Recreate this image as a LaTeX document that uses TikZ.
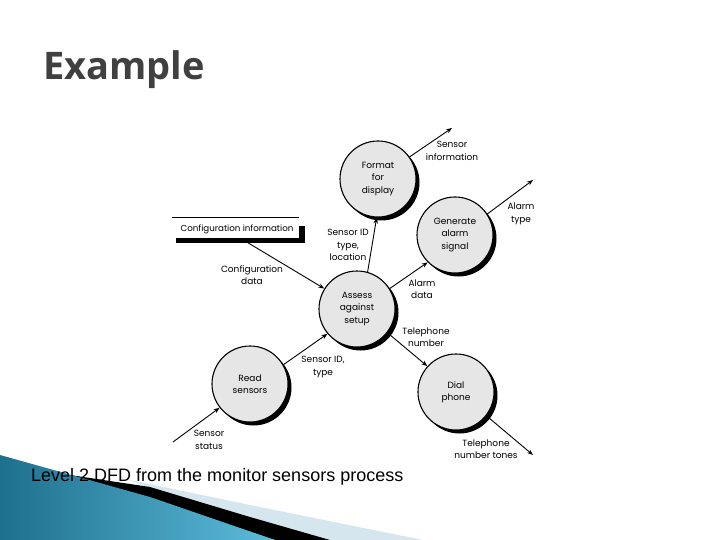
\documentclass[tikz,border=0pt]{standalone}
\usepackage{fontspec}
\setmainfont{Poppins}
\newfontfamily\capfont{Liberation Sans}
\newfontfamily\titlefont{Open Sans}
\usetikzlibrary{arrows.meta,shadows}
\definecolor{procfill}{RGB}{230,230,230}
\definecolor{titlegray}{RGB}{64,64,64}
\definecolor{swooshlight}{RGB}{214,230,238}
\definecolor{tealdark}{RGB}{30,112,142}
\definecolor{teallight}{RGB}{92,188,218}
\tikzset{
  proc/.style={circle, draw, line width=1.1pt, fill=procfill, minimum size=76pt, inner sep=0pt,
    align=center, font=\fontsize{9}{12.5}\selectfont,
    drop shadow={shadow xshift=3.5pt, shadow yshift=-3.5pt, opacity=1, fill=black}},
  lbl/.style={align=center, inner sep=0pt, font=\fontsize{9}{12.5}\selectfont},
  flow/.style={line width=0.9pt, -{Stealth[length=6pt,width=4.5pt]}}
}
\begin{document}
\begin{tikzpicture}[x=1pt,y=-1pt]
\useasboundingbox (0,0) rectangle (720,540);
% bottom swoosh
\fill[swooshlight] (130,480) -- (250,505) -- (423,540) -- (275,540) -- cycle;
\fill[black] (70,475) -- (150,487) -- (250,517) -- (330,540) -- (275,540) -- cycle;
\shade[left color=tealdark, right color=teallight] (0,455) -- (150,497) -- (275,540) -- (0,540) -- cycle;
% title
\node[anchor=west, inner sep=0pt, text=titlegray, font=\titlefont\bfseries\fontsize{38}{44}\selectfont] (title) at (43,70) {Example};
% caption
\node[anchor=west, inner sep=0pt, font=\capfont\fontsize{18}{21}\selectfont] (cap) at (31,477) {Level 2 DFD from the monitor sensors process};
% data store
\fill[black] (299,226) rectangle (305,243);
\fill[black] (176,238) rectangle (305,243);
\fill[white] (172,218) rectangle (299,238);
\draw[line width=1pt] (172,218) -- (299,218);
\node[lbl, font=\fontsize{8.7}{12}\selectfont] (cs) at (237,229) {Configuration information};
% processes
\node[proc] (fd) at (378,179) {Format\\for\\display};
\node[proc] (ga) at (455,235) {Generate\\alarm\\signal};
\node[proc] (as) at (357,309) {Assess\\against\\setup};
\node[proc] (rs) at (250,384) {Read\\sensors};
\node[proc] (dp) at (456,392) {Dial\\phone};
% free ends
\coordinate (csout) at (245,241);
\coordinate (fdout) at (452,128);
\coordinate (gaout) at (533,180);
\coordinate (dpout) at (533,455);
\coordinate (rsin) at (173,442);
% flows
\draw[flow] (csout) -- (as.148);
\draw[flow] (as.74) -- (fd.268);
\draw[flow] (as.32) -- (ga.225);
\draw[flow] (fd.35) -- (fdout);
\draw[flow] (ga.33) -- (gaout);
\draw[flow] (as.322) -- (dp.138);
\draw[flow] (dp.322) -- (dpout);
\draw[flow] (rsin) -- (rs.218);
\draw[flow] (rs.30) -- (as.220);
% labels
\node[lbl] (l1) at (452,151) {Sensor\\information};
\node[lbl] (l2) at (521,214) {Alarm\\type};
\node[lbl] (l3) at (348,245) {Sensor ID\\type,\\location};
\node[lbl] (l4) at (252,275) {Configuration\\data};
\node[lbl] (l5) at (422,289) {Alarm\\data};
\node[lbl] (l6) at (426,337) {Telephone\\number};
\node[lbl] (l7) at (323,367) {Sensor ID,\\type};
\node[lbl] (l8) at (209,440) {Sensor\\status};
\node[lbl] (l9) at (486,449) {Telephone\\number tones};
\end{tikzpicture}
\end{document}
